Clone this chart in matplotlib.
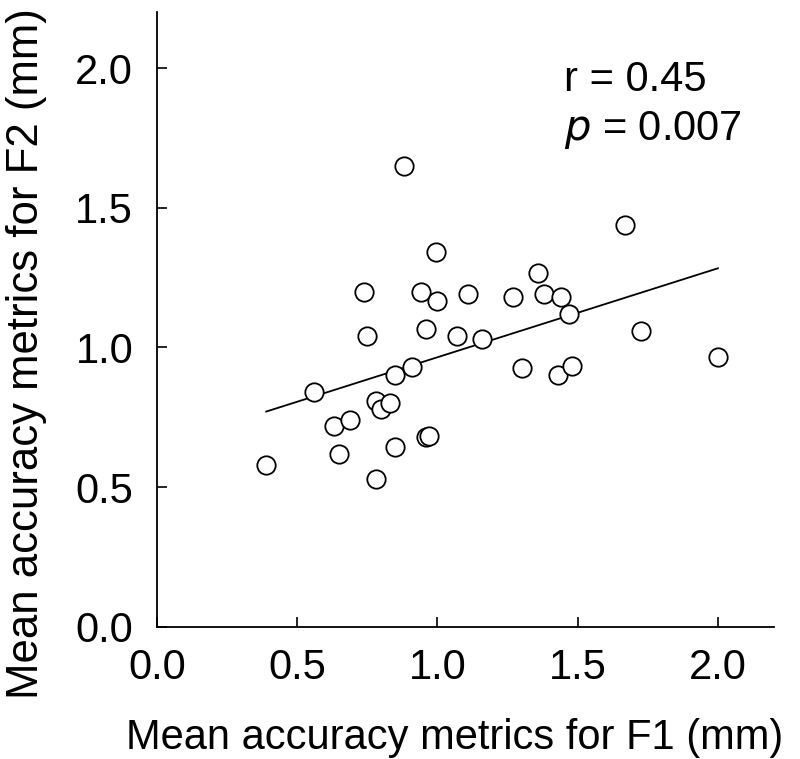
import numpy as np
import matplotlib
matplotlib.use("Agg")
import matplotlib.pyplot as plt

plt.rcParams['font.family'] = ['Liberation Sans', 'DejaVu Sans']

# F1 (x) and F2 (y) mean accuracy metrics, mm
f1 = [0.39, 0.56, 0.63, 0.65, 0.69, 0.74, 0.75, 0.78, 0.78, 0.80, 0.83, 0.85,
      0.85, 0.88, 0.91, 0.94, 0.96, 0.96, 0.97, 0.996, 1.00, 1.11, 1.07, 1.16,
      1.27, 1.30, 1.36, 1.38, 1.43, 1.44, 1.47, 1.48, 1.67, 1.725, 2.00]
f2 = [0.58, 0.84, 0.72, 0.62, 0.74, 1.20, 1.04, 0.81, 0.53, 0.78, 0.80, 0.90,
      0.645, 1.65, 0.93, 1.20, 0.68, 1.065, 0.685, 1.34, 1.165, 1.19, 1.04, 1.03,
      1.18, 0.925, 1.265, 1.19, 0.90, 1.18, 1.12, 0.935, 1.44, 1.06, 0.965]

r_text = "r = 0.45"
p_text = "$\\it{p}$ = 0.007"
xticks = [0.0, 0.5, 1.0, 1.5, 2.0]
yticks = [0.0, 0.5, 1.0, 1.5, 2.0]

x = np.array(f1)
y = np.array(f2)
slope, intercept = np.polyfit(x, y, 1)

fig = plt.figure(figsize=(8, 7.59), dpi=100)
ax = fig.add_axes([0.196, 0.174, 0.7715, 0.81])

ax.scatter(x, y, s=175, facecolors='white', edgecolors='black', linewidths=1.3, zorder=3)
xl = np.array([x.min(), x.max()])
ax.plot(xl, slope * xl + intercept, color='black', lw=1.3, zorder=2)

ax.set_xlim(0, 2.2)
ax.set_ylim(0, 2.2)
ax.set_xticks(xticks)
ax.set_yticks(yticks)
ax.set_xticklabels([f"{t:.1f}" for t in xticks])
ax.set_yticklabels([f"{t:.1f}" for t in yticks])
ax.tick_params(direction='in', length=7, width=1.2, labelsize=30)
ax.tick_params(axis='x', pad=15)
ax.tick_params(axis='y', pad=17)
for s in ['top', 'right']:
    ax.spines[s].set_visible(False)
for s in ['left', 'bottom']:
    ax.spines[s].set_linewidth(1.3)

ax.set_xlabel("Mean accuracy metrics for F1 (mm)", fontsize=30)
ax.xaxis.set_label_coords(0.483, -0.148)
ax.set_ylabel("Mean accuracy metrics for F2 (mm)", fontsize=31.5)
ax.yaxis.set_label_coords(-0.178, 0.445)

ax.text(1.45, 1.957, r_text, fontsize=30, ha='left', va='center')
ax.text(1.45, 1.778, p_text, fontsize=30, ha='left', va='center')

fig.savefig("out.png", dpi=100)
